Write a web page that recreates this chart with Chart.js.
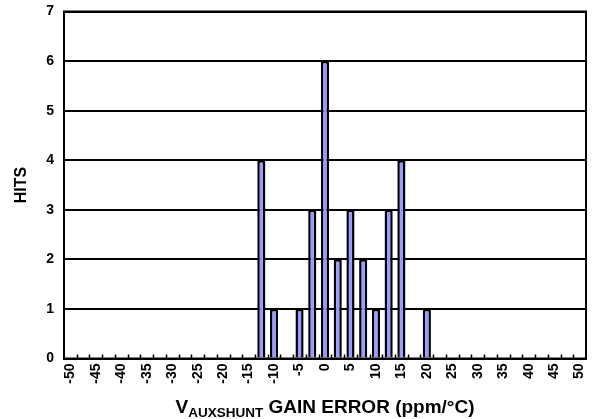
<!DOCTYPE html>
<html>
<head>
<meta charset="utf-8">
<script src="https://cdn.jsdelivr.net/npm/chart.js@4.4.1/dist/chart.umd.min.js"></script>
<style>
  html, body { margin: 0; padding: 0; background: #fff; }
  canvas { display: block; }
</style>
</head>
<body>
<canvas id="HitsChart" width="595" height="419"></canvas>
<script>
// bins of V_AUXSHUNT gain error, ppm/°C
var binLabels = ['-50', '-47.5', '-45', '-42.5', '-40', '-37.5', '-35', '-32.5', '-30', '-27.5',
    '-25', '-22.5', '-20', '-17.5', '-15', '-12.5', '-10', '-7.5', '-5', '-2.5',
    '0', '2.5', '5', '7.5', '10', '12.5', '15', '17.5', '20', '22.5',
    '25', '27.5', '30', '32.5', '35', '37.5', '40', '42.5', '45', '47.5', '50'];
var hits = [0, 0, 0, 0, 0, 0, 0, 0, 0, 0,
    0, 0, 0, 0, 0, 4, 1, 0, 1, 3,
    6, 2, 3, 2, 1, 3, 4, 0, 1, 0,
    0, 0, 0, 0, 0, 0, 0, 0, 0, 0, 0];
var yTicks = [0, 1, 2, 3, 4, 5, 6, 7];

var font = 'Arial, "Liberation Sans", sans-serif';

// frame + small inward ticks at the bin edges + axis title with subscript
var framePlugin = {
    id: 'frame',
    afterDraw: function (chart) {
        var ctx = chart.ctx;
        var a = chart.chartArea;
        ctx.save();
        ctx.strokeStyle = '#000';
        ctx.lineWidth = 1.5;
        var step = (a.right - a.left) / binLabels.length;
        for (var i = 1; i < binLabels.length; i++) {
            var px = Math.round(a.left + step * i) + 0.5;
            ctx.beginPath();
            ctx.moveTo(px, a.bottom);
            ctx.lineTo(px, a.bottom - 4);
            ctx.stroke();
        }
        ctx.lineWidth = 2;
        ctx.strokeRect(a.left, a.top, a.right - a.left, a.bottom - a.top);

        // x title
        var big = 'bold 19px ' + font;
        var small = 'bold 13.5px ' + font;
        var p1 = 'V', p2 = 'AUXSHUNT', p3 = ' GAIN ERROR (ppm/\u00B0C)';
        ctx.font = big;
        var w1 = ctx.measureText(p1).width, w3 = ctx.measureText(p3).width;
        ctx.font = small;
        var w2 = ctx.measureText(p2).width;
        var cx = (a.left + a.right) / 2;
        var x0 = cx - (w1 + w2 + w3) / 2;
        var base = 413;
        ctx.fillStyle = '#000';
        ctx.textBaseline = 'alphabetic';
        ctx.textAlign = 'left';
        ctx.font = big;
        ctx.fillText(p1, x0, base);
        ctx.font = small;
        ctx.fillText(p2, x0 + w1, base + 4);
        ctx.font = big;
        ctx.fillText(p3, x0 + w1 + w2, base);
        ctx.restore();
    }
};

new Chart(document.getElementById('HitsChart'), {
    type: 'bar',
    data: {
        labels: binLabels,
        datasets: [
            {
                label: 'HITS',
                data: hits,
                backgroundColor: '#9999ff',
                borderColor: '#000',
                borderWidth: 2.5,
                barPercentage: 0.64,
                categoryPercentage: 1.0
            }
        ]
    },
    options: {
        responsive: false,
        animation: false,
        devicePixelRatio: 1,
        layout: {
            padding: { left: 0, right: 9, top: 11.5, bottom: 0 }
        },
        plugins: {
            legend: { display: false },
            tooltip: { enabled: false }
        },
        scales: {
            x: {
                offset: true,
                grid: { display: false, drawTicks: false },
                border: { display: true, color: '#000', width: 2 },
                ticks: {
                    autoSkip: false,
                    maxRotation: 90,
                    minRotation: 90,
                    padding: 5,
                    color: '#000',
                    font: { family: font, size: 14, weight: 'bold' },
                    callback: function (value, index) {
                        return index % 2 === 0 ? binLabels[index] : '';
                    }
                },
                afterFit: function (scale) {
                    scale.height = 60.5;
                    scale.paddingLeft = 0;
                    scale.paddingRight = 0;
                }
            },
            y: {
                min: 0,
                max: 7,
                afterBuildTicks: function (scale) {
                    scale.ticks = yTicks.map(function (v) { return { value: v }; });
                },
                grid: { color: '#000', lineWidth: 2, drawTicks: false },
                border: { display: true, color: '#000', width: 2 },
                ticks: {
                    autoSkip: false,
                    padding: 10,
                    color: '#000',
                    font: { family: font, size: 14, weight: 'bold' }
                },
                title: {
                    display: true,
                    text: 'HITS',
                    color: '#000',
                    padding: { top: 12, bottom: 0 },
                    font: { family: font, size: 16, weight: 'bold' }
                },
                afterFit: function (scale) {
                    scale.width = 64;
                    scale.paddingTop = 0;
                    scale.paddingBottom = 0;
                }
            }
        }
    },
    plugins: [framePlugin]
});
</script>
</body>
</html>
